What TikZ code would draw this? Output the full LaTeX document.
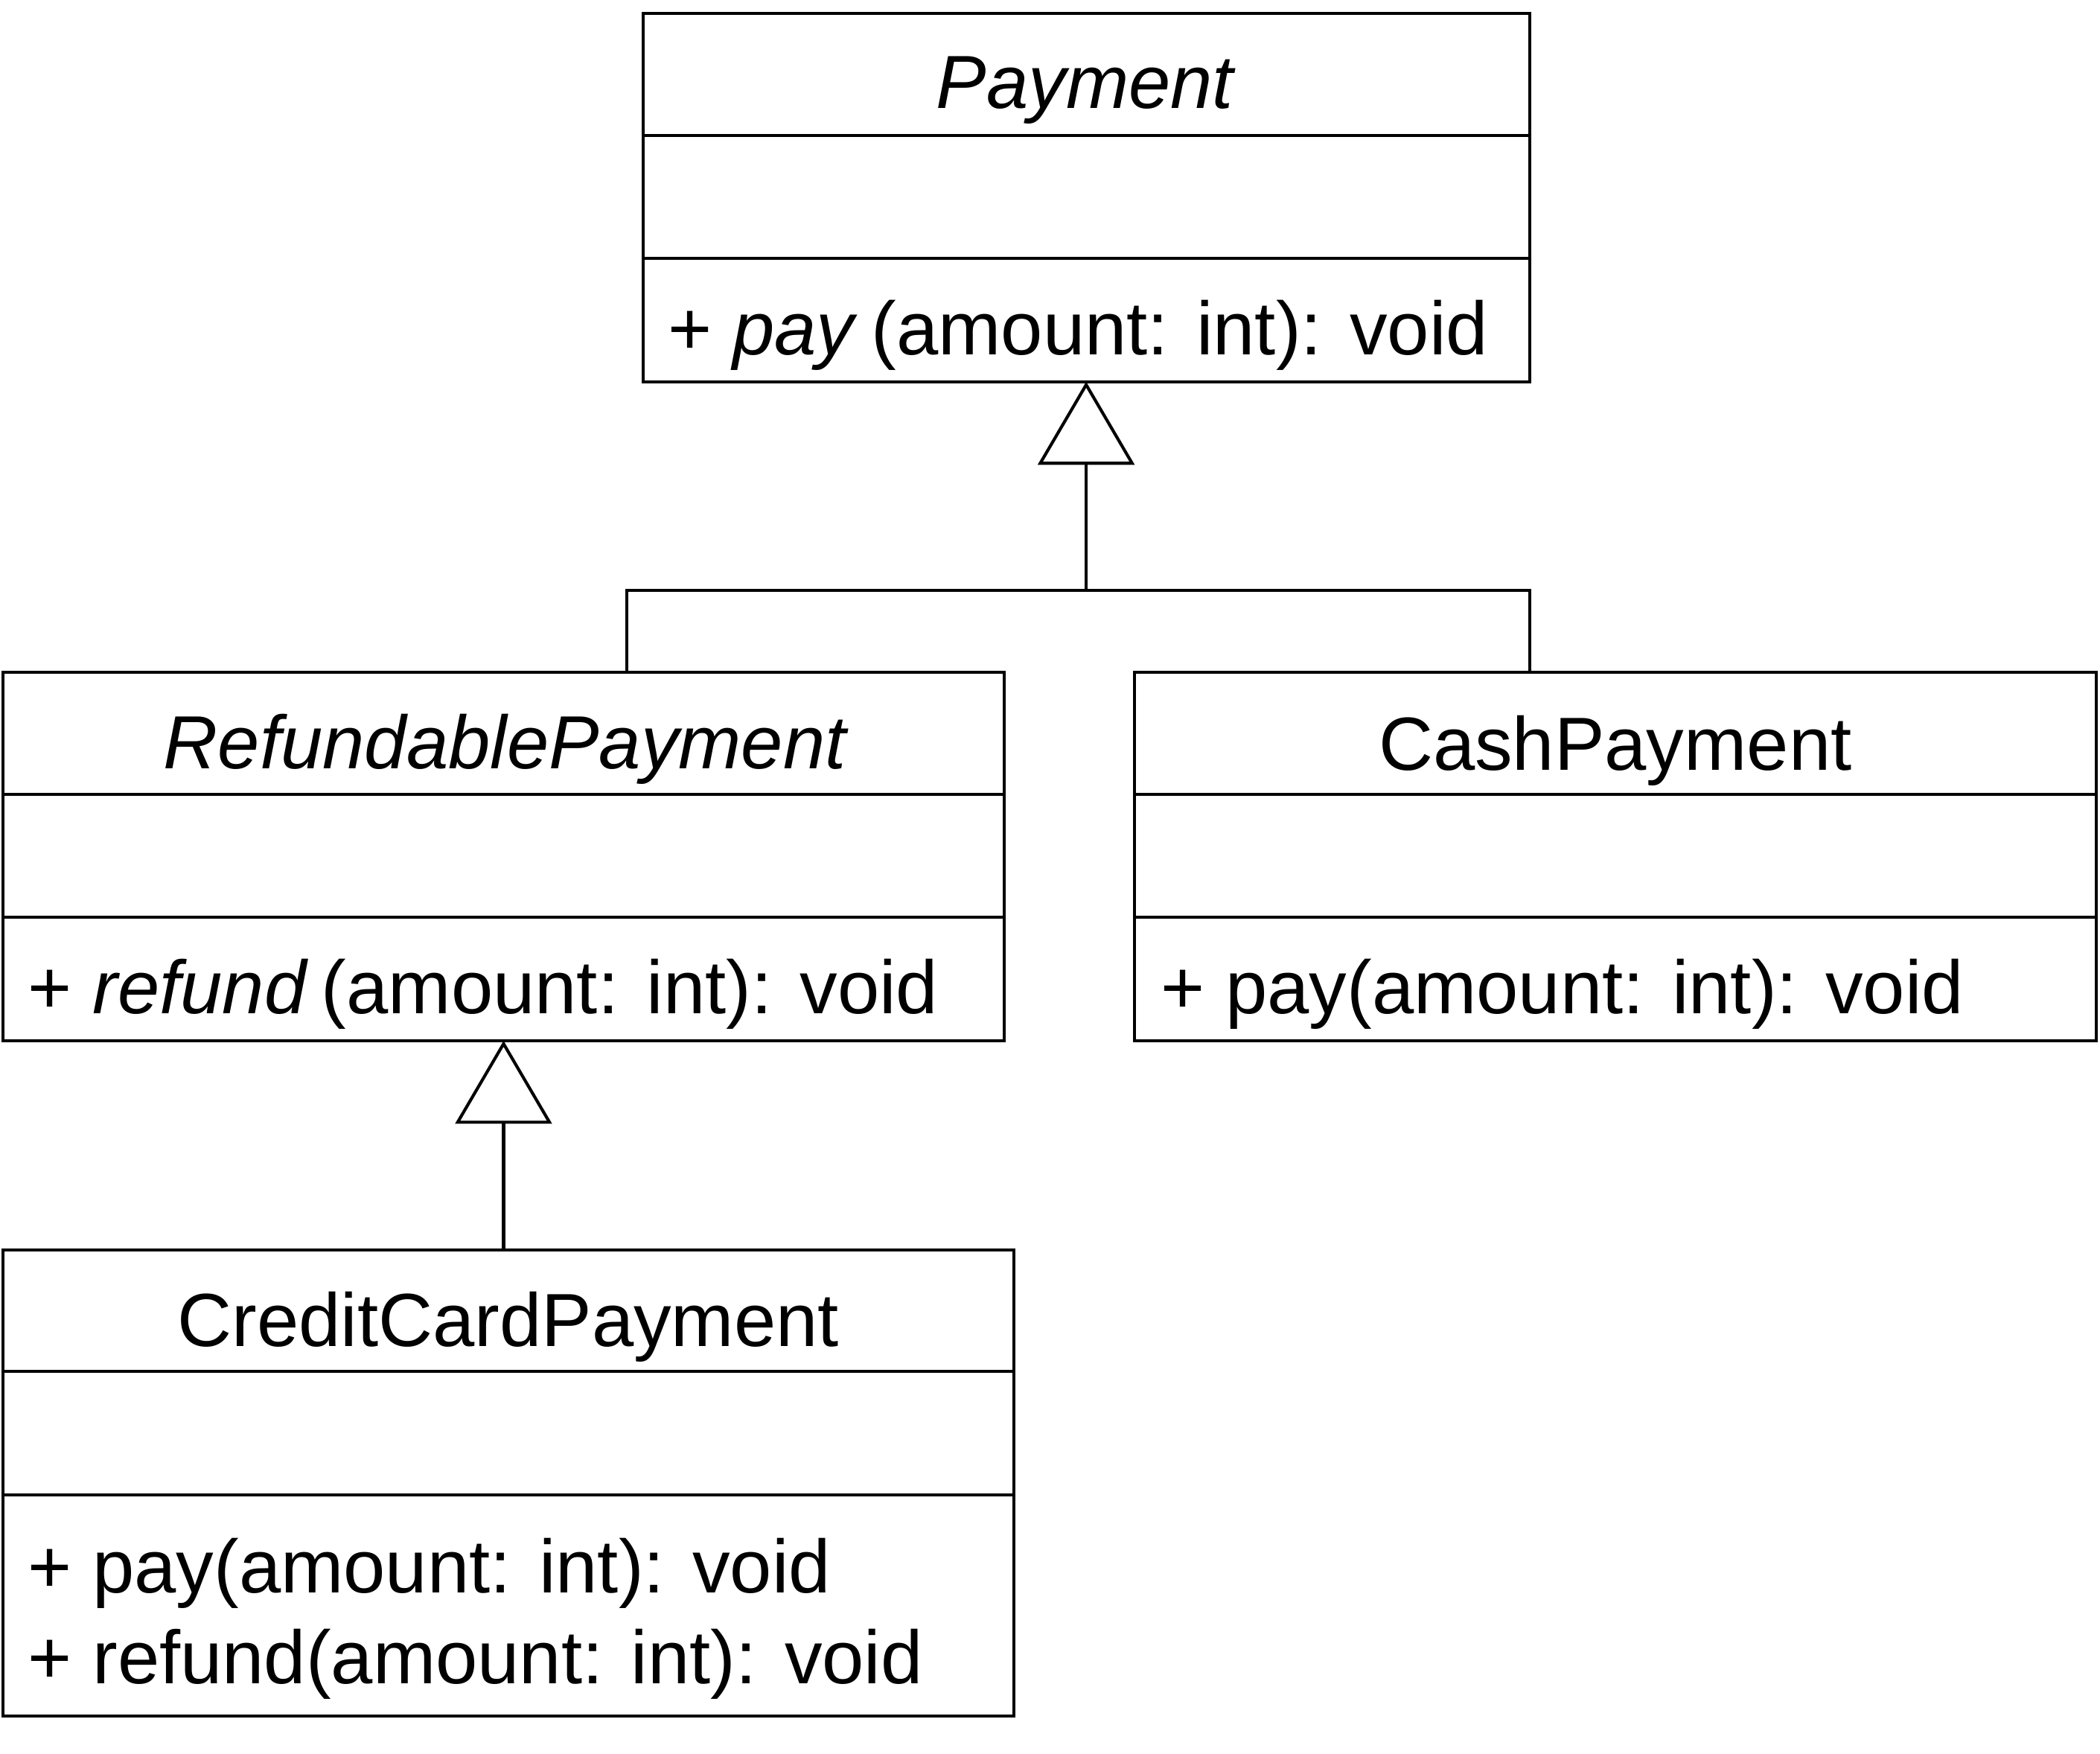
\documentclass[tikz,border=0pt]{standalone}
\usepackage{fontspec}
\setmainfont{Liberation Sans}
\usetikzlibrary{arrows.meta}
\tikzset{
  classbox/.style={rectangle,draw=black,line width=0.65pt,inner sep=0pt,outer sep=0pt},
  classname/.style={anchor=base,inner sep=0pt,font=\fontsize{16pt}{19pt}\selectfont},
  member/.style={anchor=base west,inner sep=0pt,font=\fontsize{16pt}{19pt}\selectfont},
  inherit/.style={-{Triangle[open,length=0.62cm,width=0.72cm]},line width=0.65pt}
}
\begin{document}
\begin{tikzpicture}
\useasboundingbox (0,0) rectangle (15.68,-13.09);
\node[classbox,minimum width=6.62cm,minimum height=2.75cm] (payment) at (8.11,-1.475) {};
\node[classbox,minimum width=7.48cm,minimum height=2.75cm] (refundable) at (3.76,-6.395) {};
\node[classbox,minimum width=7.18cm,minimum height=2.75cm] (cash) at (12.06,-6.395) {};
\node[classbox,minimum width=7.55cm,minimum height=3.48cm] (credit) at (3.795,-11.07) {};
% compartments
\foreach \c in {payment,refundable,cash,credit} {
  \draw[line width=0.65pt] ([yshift=-0.91cm]\c.north west) -- ([yshift=-0.91cm]\c.north east);
  \draw[line width=0.65pt] ([yshift=-1.83cm]\c.north west) -- ([yshift=-1.83cm]\c.north east);
}
\node[classname] (paymentname) at ([yshift=-0.71cm]payment.north) {\textit{Payment}};
\node[member] (paymentpay) at ([xshift=0.18cm,yshift=-2.55cm]payment.north west) {+ \textit{pay}\hspace{0.1cm}(amount: int): void};
\node[classname] (refundablename) at ([xshift=0.02cm,yshift=-0.72cm]refundable.north) {\textit{RefundablePayment}};
\node[member] (refundablerefund) at ([xshift=0.18cm,yshift=-2.55cm]refundable.north west) {+ \textit{refund}\hspace{0.1cm}(amount: int): void};
\node[classname] (cashname) at ([yshift=-0.73cm]cash.north) {CashPayment};
\node[member] (cashpay) at ([xshift=0.19cm,yshift=-2.55cm]cash.north west) {+ pay(amount: int): void};
\node[classname] (creditname) at ([yshift=-0.72cm]credit.north) {CreditCardPayment};
\node[member] (creditpay) at ([xshift=0.18cm,yshift=-2.56cm]credit.north west) {+ pay(amount: int): void};
\node[member] (creditrefund) at ([xshift=0.18cm,yshift=-3.24cm]credit.north west) {+ refund(amount: int): void};
% generalisation
\coordinate (fork) at (payment.south |- 0,-4.41);
\draw[inherit] (refundable.north -| 4.68,0) |- (fork) -- (payment.south);
\draw[line width=0.65pt] (cash.north -| payment.east) |- (fork);
\draw[inherit] (credit.north -| refundable.south) -- (refundable.south);
\end{tikzpicture}
\end{document}
